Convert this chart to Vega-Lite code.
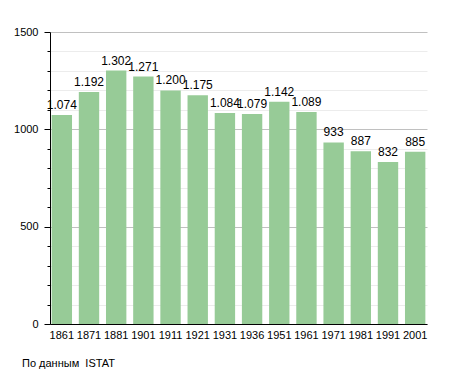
{
  "$schema": "https://vega.github.io/schema/vega-lite/v6.json",
  "width": 377,
  "height": 292,
  "autosize": "none",
  "padding": {"left": 50, "top": 32, "right": 28, "bottom": 49},
  "background": "white",
  "config": {
    "view": {"stroke": null},
    "font": "Liberation Sans",
    "locale": {"number": {"decimal": ",", "thousands": ".", "grouping": [3], "currency": ["", ""]}}
  },
  "title": {
    "text": "По данным \u00a0ISTAT",
    "orient": "bottom",
    "anchor": "start",
    "frame": "group",
    "dx": -28,
    "offset": 18,
    "fontSize": 11,
    "fontWeight": "normal",
    "font": "Liberation Sans",
    "color": "black"
  },
  "data": {
    "values": [
      {"year": "1861", "pop": 1074},
      {"year": "1871", "pop": 1192},
      {"year": "1881", "pop": 1302},
      {"year": "1901", "pop": 1271},
      {"year": "1911", "pop": 1200},
      {"year": "1921", "pop": 1175},
      {"year": "1931", "pop": 1084},
      {"year": "1936", "pop": 1079},
      {"year": "1951", "pop": 1142},
      {"year": "1961", "pop": 1089},
      {"year": "1971", "pop": 933},
      {"year": "1981", "pop": 887},
      {"year": "1991", "pop": 832},
      {"year": "2001", "pop": 885}
    ]
  },
  "encoding": {
    "x": {
      "field": "year",
      "type": "ordinal",
      "sort": null,
      "scale": {"paddingInner": 0.25, "paddingOuter": 0.06},
      "axis": {
        "title": null,
        "labelAngle": 0,
        "ticks": false,
        "domainColor": "black",
        "labelColor": "black",
        "labelFontSize": 11,
        "labelPadding": 5
      }
    },
    "y": {
      "field": "pop",
      "type": "quantitative",
      "scale": {"domain": [0, 1500], "nice": false},
      "axis": {
        "title": null,
        "values": [0, 100, 200, 300, 400, 500, 600, 700, 800, 900, 1000, 1100, 1200, 1300, 1400, 1500],
        "labelExpr": "datum.value % 500 === 0 ? format(datum.value, 'd') : ''",
        "tickSize": {"condition": {"test": "datum.value % 500 === 0", "value": 6}, "value": 3},
        "tickColor": "black",
        "domainColor": "black",
        "labelColor": "black",
        "labelFontSize": 11,
        "labelPadding": 6,
        "gridColor": {"condition": {"test": "datum.value % 500 === 0", "value": "#c0c0c0"}, "value": "#ececec"}
      }
    }
  },
  "layer": [
    {"mark": {"type": "bar", "color": "#97CB97"}},
    {
      "mark": {"type": "text", "baseline": "bottom", "dy": -3, "fontSize": 12, "font": "Liberation Sans", "color": "black"},
      "encoding": {"text": {"field": "pop", "type": "quantitative", "format": ",d"}}
    }
  ]
}
